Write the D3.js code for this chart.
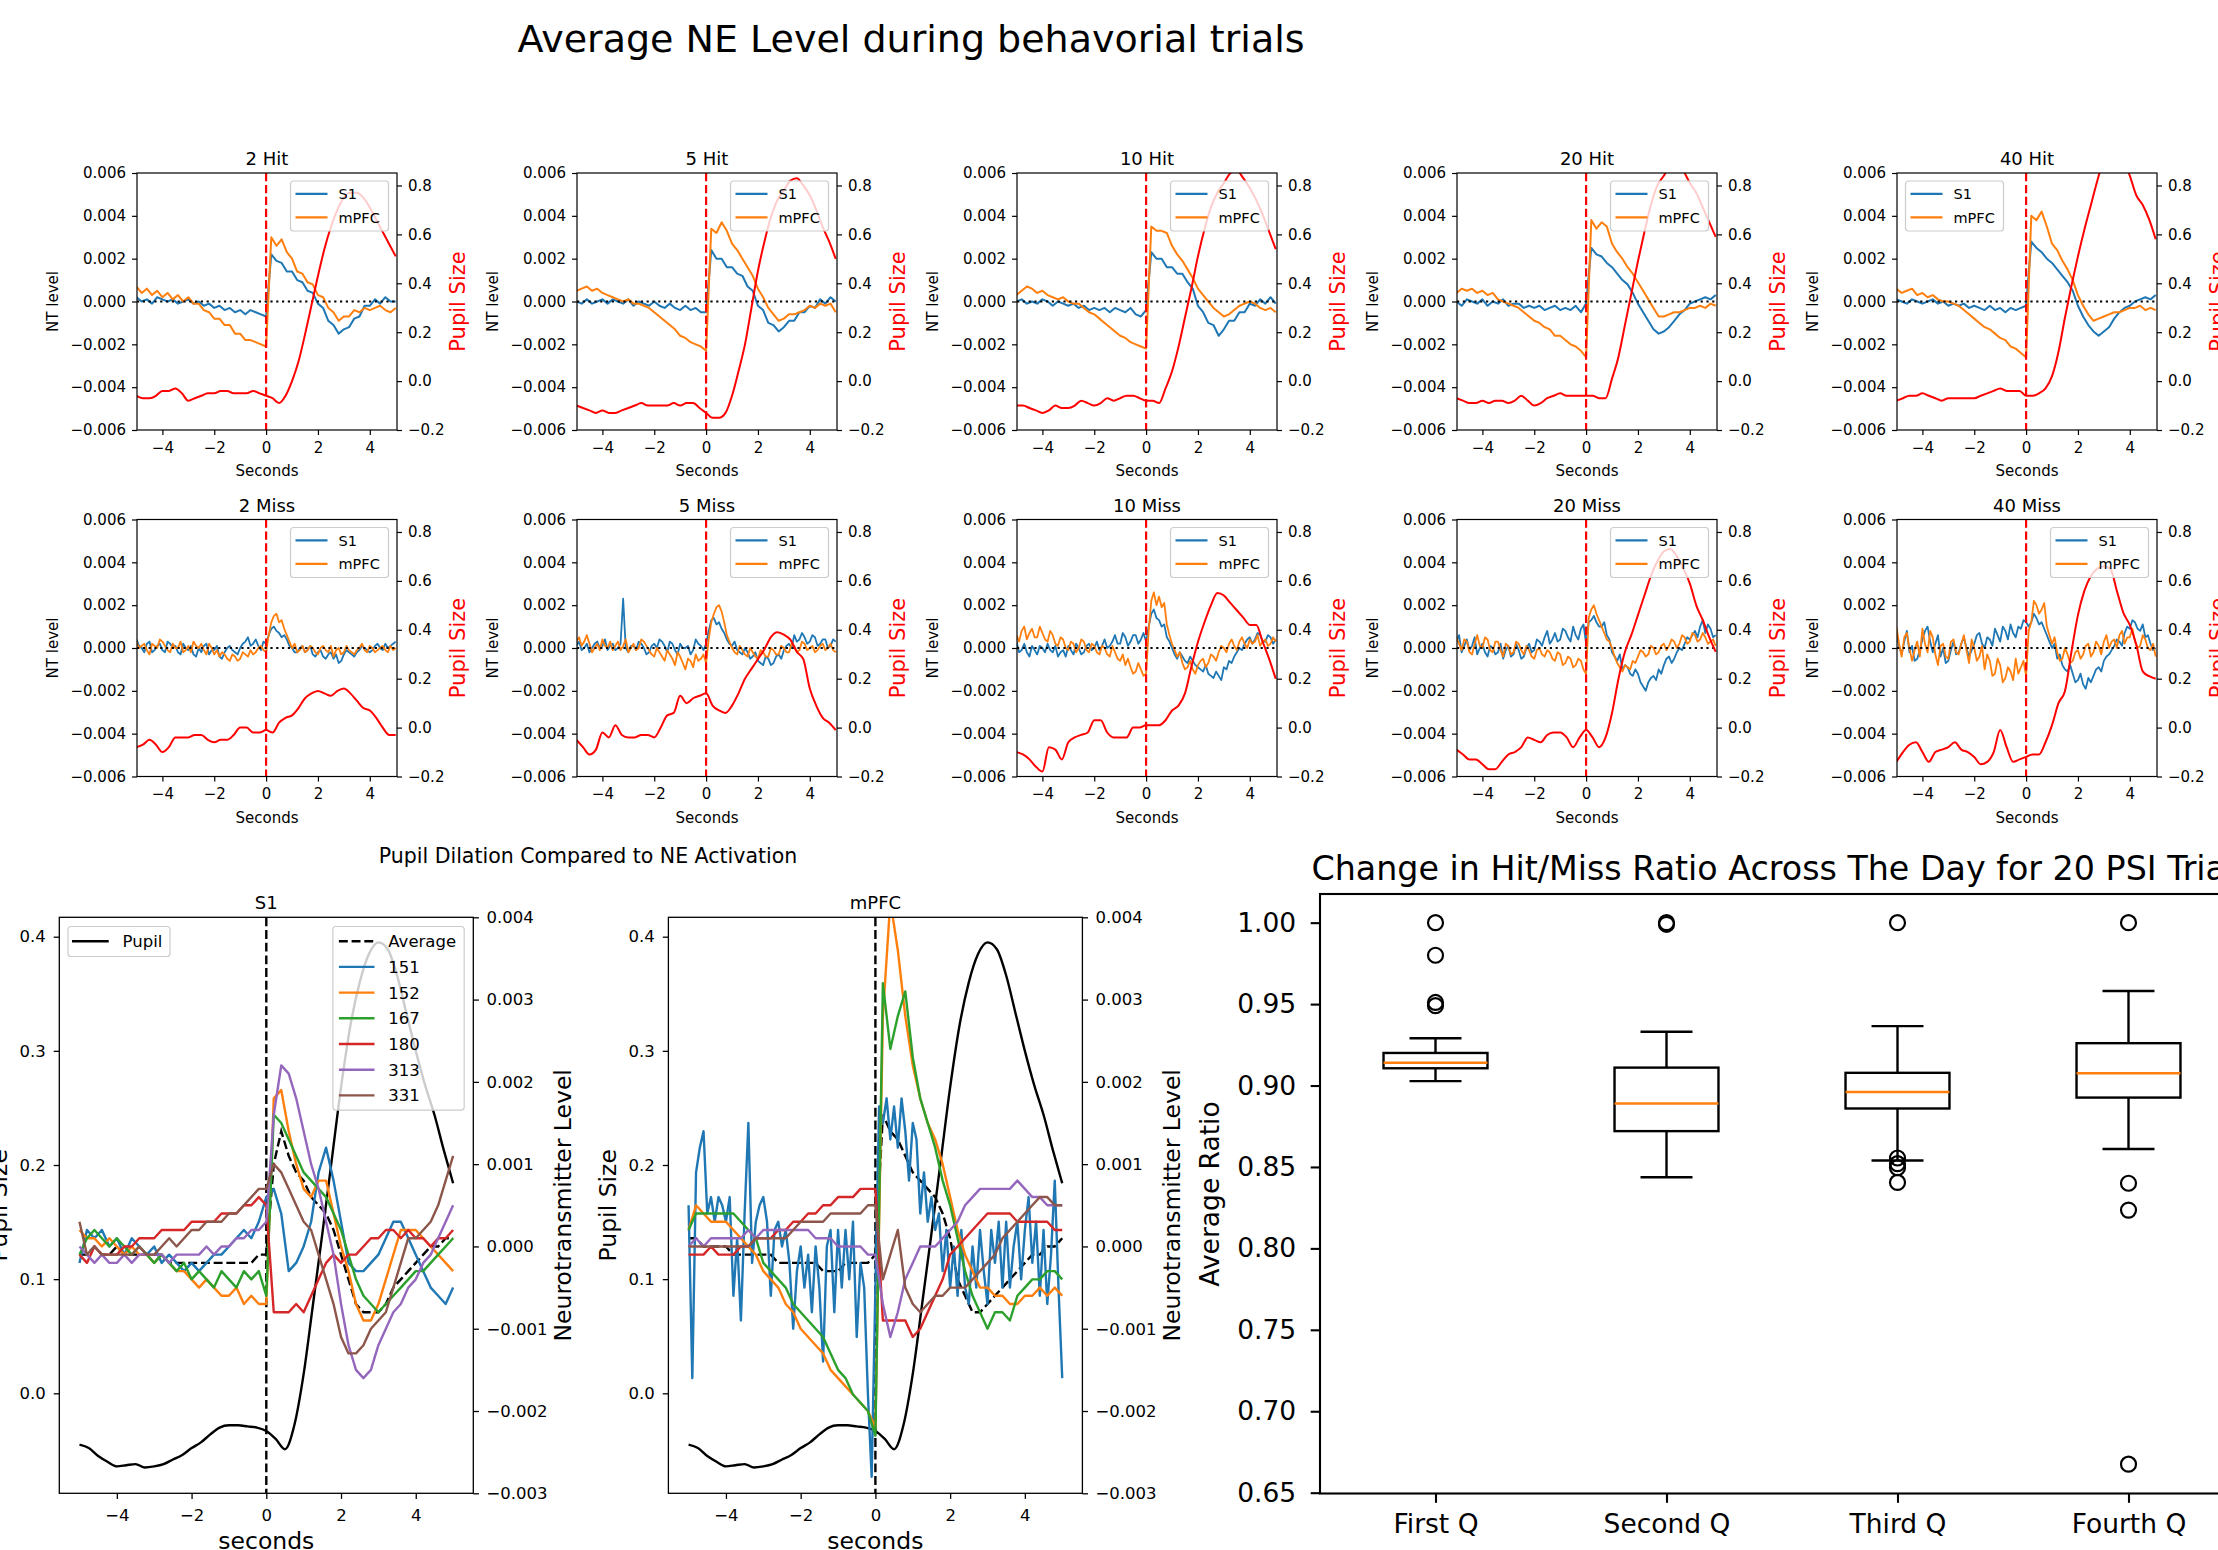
<!DOCTYPE html>
<html>
<head>
<meta charset="utf-8">
<script src="https://cdn.jsdelivr.net/npm/d3@7"></script>
<style>
  body { margin: 0; padding: 0; background: #fff; }
  svg text { font-family: "DejaVu Sans", sans-serif; }
</style>
</head>
<body>
<svg id="fig" width="2218" height="1550"></svg>
<script>
// ---------- top grid: NT level (units of 1e-4) and pupil size (units of 0.01) ----------
// NT series run from -5 s to 5 s in even steps (51 points for hits, 101 for misses)
var trialNames = ["2 Hit", "5 Hit", "10 Hit", "20 Hit", "40 Hit", "2 Miss", "5 Miss", "10 Miss", "20 Miss", "40 Miss"];
var legendLeft = [false, false, false, false, true, false, false, false, false, false];
var pupilTime = d3.range(41).map(function (i) { return -5 + 0.25 * i; });
function timeFor(vals) {
  var n = vals.length;
  return vals.map(function (v, i) { return -5 + 10 * i / (n - 1); });
}

var s1_2hit = [2,0,1,-1,2,1,0,1,-1,0,1,-1,0,-2,-1,-3,-2,-4,-3,-5,-4,-6,-4,-5,-6,-7, 22,19,18,14,14,10,9,5,4,-1,-3,-9,-11,-15,-13,-12,-8,-7,-2,-2,1,-1,2,0,0];
var pfc_2hit = [7,4,6,3,5,2,4,1,3,0,2,-1,-1,-4,-5,-8,-8,-11,-11,-15,-15,-18,-18,-19,-20,-21, 30,26,29,23,20,14,13,9,8,3,2,-3,-5,-9,-7,-7,-4,-5,-3,-4,-3,-2,-4,-5,-3];
var pupil_2hit = [-6,-7,-7,-6,-4,-4,-3,-5,-8,-7,-6,-5,-5,-4,-4,-5,-5,-5,-4,-5,-6,-7,-9,-6,0,8,19,31,43,54,63,70,75,77,77,75,71,66,61,56,51];

var s1_5hit = [0,-1,1,-1,0,1,-1,1,0,-1,1,-2,0,-1,-2,0,-2,-3,-1,-3,-4,-2,-4,-3,-5,-5, 24,20,20,16,16,13,12,7,5,-2,-4,-10,-11,-14,-12,-9,-9,-5,-5,-2,-3,1,-1,2,0];
var pfc_5hit = [5,6,7,5,6,4,3,2,1,0,1,-1,-1,-2,-3,-5,-7,-9,-11,-13,-16,-17,-19,-20,-21,-23, 34,32,37,33,27,24,20,16,12,6,2,-3,-6,-9,-8,-6,-6,-5,-4,-2,-3,-1,-2,-1,-5];
var pupil_5hit = [-10,-11,-12,-13,-12,-13,-13,-12,-11,-10,-9,-10,-10,-10,-10,-9,-10,-9,-9,-11,-13,-15,-15,-13,-6,4,15,30,45,57,67,74,78,82,83,80,76,70,63,57,50];

var s1_10hit = [0,1,-1,0,-1,1,0,-2,0,-1,-2,-1,-3,-2,-4,-3,-4,-3,-5,-3,-4,-5,-3,-6,-7,-4, 23,20,20,16,16,13,13,9,6,-2,-5,-10,-11,-16,-13,-9,-9,-5,-5,-1,-2,1,-1,2,-1];
var pfc_10hit = [3,5,7,6,4,5,3,2,1,2,0,-1,-1,-3,-5,-6,-8,-10,-12,-14,-16,-17,-19,-20,-21,-22, 35,33,33,32,26,22,19,15,11,6,3,0,-3,-5,-7,-6,-4,-2,-1,0,-1,-3,-4,-3,-5];
var pupil_10hit = [-10,-10,-11,-12,-13,-12,-10,-11,-11,-10,-8,-9,-10,-9,-7,-8,-7,-6,-6,-7,-8,-8,-9,-3,4,14,26,38,51,62,71,77,81,85,86,83,79,74,68,61,54];

var s1_20hit = [0,-2,1,0,-1,1,-2,0,-1,1,-2,-1,-1,-3,-2,-3,-2,-4,-3,-2,-4,-3,-4,-2,-5,-1, 25,22,21,18,16,13,10,8,4,-1,-5,-9,-13,-15,-14,-12,-9,-6,-4,-1,0,1,2,1,3];
var pfc_20hit = [4,6,5,6,4,5,3,4,1,0,-1,-2,-3,-5,-7,-9,-10,-12,-13,-16,-16,-18,-20,-21,-23,-26, 38,34,37,35,27,23,20,16,13,9,5,1,-3,-7,-7,-6,-5,-5,-4,-3,-3,-2,-3,-1,-2];
var pupil_20hit = [-7,-8,-9,-9,-8,-9,-8,-8,-9,-8,-6,-8,-10,-9,-7,-6,-5,-6,-6,-6,-6,-6,-7,-7,1,10,23,36,49,61,72,80,84,88,88,86,81,77,71,65,59];

var s1_40hit = [1,0,-1,1,0,-1,0,1,-1,0,-2,-1,-2,-1,-3,-2,-3,-4,-2,-4,-3,-5,-3,-4,-3,-2, 28,25,23,20,18,15,12,9,5,-2,-7,-11,-14,-16,-14,-12,-8,-5,-3,-2,0,1,2,1,3];
var pfc_40hit = [6,4,5,6,3,4,2,3,1,0,0,-1,-2,-4,-6,-8,-10,-12,-13,-15,-17,-18,-21,-22,-24,-26, 40,38,42,35,27,24,19,15,10,3,-2,-6,-9,-8,-7,-6,-5,-5,-4,-3,-3,-2,-4,-3,-4];
var pupil_40hit = [-8,-7,-6,-6,-5,-6,-7,-8,-7,-7,-7,-7,-7,-6,-5,-4,-3,-4,-4,-4,-6,-6,-5,-3,2,12,26,39,51,62,72,82,91,96,97,91,84,76,72,66,58];

var s1_2miss = [4,1,0,-2,2,3,-2,-1,1,2,-1,-2,3,2,0,1,-2,-3,2,0,-1,1,-3,-4,0,-2,1,2,-3,-1,-1,1,-4,-5,-2,0,1,-1,-2,-3,
                0,2,3,5,1,2,4,1,-1,3,2,6,9,10,8,7,5,6,4,1,0,-2,-2,0,1,-2,-1,1,-3,-4,-2,-1,-4,-5,-3,-2,-5,-3,-7,-6,
                -3,-1,-2,-3,-4,-2,-1,1,0,-1,-2,-1,1,2,0,-1,2,0,1,2,3];
var pfc_2miss = [3,0,1,2,-1,-3,2,1,0,4,3,1,-1,-2,2,0,0,3,-2,-1,1,-2,3,1,0,2,-1,-3,2,0,-3,-1,-4,-2,-3,-5,-6,-3,-4,-6,
                 -5,-2,-3,-4,-1,-3,-2,0,1,-1,-2,6,12,15,16,12,13,9,6,3,0,2,-2,-1,1,-2,-1,1,0,-2,-3,0,1,-1,-2,1,-4,-1,0,-3,
                 -2,1,-1,-2,-3,-1,0,2,-1,-2,1,0,-2,-1,0,1,-1,-2,1,-1,0];
var pupil_2miss = [-8,-7,-5,-7,-10,-8,-4,-4,-4,-3,-3,-5,-6,-5,-5,-3,0,0,-2,-2,-1,-2,2,4,5,8,12,14,15,14,13,15,16,14,11,8,7,4,0,-3,-3];

var s1_5miss = [1,3,-1,0,2,-2,0,2,3,0,1,4,-1,1,2,-1,0,2,23,0,-2,1,1,-1,3,2,0,-3,-2,1,2,0,4,3,1,-2,3,2,-1,-3,
                2,0,0,1,-3,-1,4,2,1,-1,2,8,13,14,11,12,9,7,4,2,1,3,-1,-2,-3,0,-2,-5,-4,-2,-6,-7,-8,-4,-5,-8,-7,-4,-3,-5,
                -1,1,2,0,6,3,4,7,5,2,3,6,5,1,2,4,4,0,1,4,3];
var pfc_5miss = [3,5,1,3,6,2,-2,0,2,-1,4,1,0,3,-1,1,3,-1,1,4,-2,0,2,-1,0,4,3,1,-1,-3,-4,0,-2,-4,-6,-1,-3,-5,-8,-2,
                 -4,-7,-10,-5,-6,-9,-3,-6,-5,-3,-7,4,12,16,19,20,17,12,6,3,0,-2,-3,1,-1,-3,-4,0,-2,-4,-5,-1,-2,-4,-4,0,-1,-3,-3,1,
                 0,-2,-2,2,1,-2,-1,3,2,-1,0,1,-2,-1,1,2,-1,0,2,-1,-2];
var pupil_5miss = [-5,-8,-11,-9,-2,-4,1,-3,-4,-4,-3,-3,-4,0,5,6,13,10,12,13,14,9,7,6,9,14,20,24,28,32,37,39,38,36,31,28,16,9,4,2,-1];

var s1_10miss = [3,-2,-1,2,-2,-4,1,-1,-3,1,0,-2,2,-1,-2,1,-4,-2,-1,-4,1,-1,-3,2,0,-3,-2,1,2,-1,0,3,-1,1,4,0,1,3,6,2,
                 2,7,5,1,3,6,6,2,4,7,3,10,16,18,14,13,10,11,5,3,0,-3,-5,-2,-4,-6,-7,-4,-6,-8,-9,-10,-11,-8,-12,-13,-14,-11,-13,-15,
                 -9,-10,-6,-7,-4,-2,0,-1,2,4,5,2,4,7,6,3,3,6,5,2,4];
var pfc_10miss = [6,3,8,10,4,7,9,5,5,10,7,4,3,8,6,2,1,5,4,0,-1,3,2,-2,0,4,3,-1,-2,2,1,-2,-3,1,0,-3,-4,1,-2,-5,
                  -6,-3,-8,-5,-9,-12,-11,-7,-10,-13,-12,8,22,26,20,24,19,21,11,6,2,-1,-4,-2,-7,-10,-9,-6,-10,-12,-8,-6,-5,-9,-7,-3,-4,-6,-2,1,
                  0,-2,2,4,1,-1,3,5,2,0,4,2,3,6,1,3,4,1,2,5,3];
var pupil_10miss = [-10,-11,-13,-16,-18,-8,-9,-13,-6,-4,-3,-2,3,3,-2,-4,-4,-4,0,0,1,1,1,3,7,9,14,25,35,43,50,55,54,51,48,45,42,42,35,28,20];

var s1_20miss = [3,6,-2,1,4,-1,1,5,-3,0,2,-2,-4,1,0,-3,-2,2,-5,-1,1,-4,-3,2,-1,-5,-4,0,2,-2,-1,4,3,1,5,8,2,4,7,3,
                 4,9,8,5,3,10,6,4,9,11,2,12,13,15,12,10,10,12,6,4,-2,-4,-6,-3,-10,-8,-9,-12,-13,-10,-12,-16,-18,-20,-16,-14,-13,-15,-10,-12,
                 -8,-5,-4,-7,-5,-2,0,-1,2,5,4,6,8,5,10,13,7,11,9,5,6];
var pfc_20miss = [5,2,-1,4,3,-2,-3,2,6,1,0,5,4,-1,-2,3,3,-1,-4,2,1,-3,-2,3,2,-1,-3,1,-1,-4,-5,-1,0,-3,-4,-1,-2,-5,-6,-2,
                  -3,-8,-7,-4,-5,-9,-8,-5,-6,-10,-12,14,18,20,16,13,10,7,4,3,0,-4,-7,-9,-11,-8,-9,-10,-6,-7,-4,-1,-2,-4,-3,1,0,-3,-2,1,
                  2,-1,1,4,3,0,2,6,5,2,3,7,6,3,4,7,5,2,3,4,1];
var pupil_20miss = [-9,-11,-13,-13,-15,-17,-17,-14,-11,-10,-8,-4,-5,-6,-3,-2,-2,-4,-8,-4,-1,-4,-8,-4,6,20,31,38,46,54,62,68,72,73,70,65,59,50,44,37,31];

var s1_40miss = [6,1,-3,3,8,-2,1,-6,-5,-1,4,8,10,3,-2,2,6,-4,0,-7,-6,-1,3,-3,-2,2,5,0,-4,-1,2,6,7,2,0,5,4,1,9,6,
                 3,10,8,4,11,7,5,10,9,13,12,10,12,16,14,11,12,9,6,3,0,2,-5,-3,-8,-10,-11,-8,-12,-16,-15,-12,-17,-19,-14,-16,-13,-10,-9,-11,
                 -6,-4,-3,-1,1,4,3,1,7,10,9,13,12,9,8,11,5,6,2,-1,0];
var pfc_40miss = [10,2,-4,5,7,0,-6,-1,3,-4,9,2,-2,8,5,-3,-8,1,2,-4,-5,3,4,-2,-3,2,6,-1,-7,4,0,-6,-4,1,-10,-3,-6,-13,-12,-5,
                  -8,-16,-14,-9,-11,-15,-5,-12,-9,-6,-13,8,12,22,20,16,18,21,10,6,2,5,-2,-6,-5,0,-3,-7,-6,-2,-1,-5,-3,1,2,-4,-2,3,1,-3,
                  3,6,0,3,4,0,6,8,2,5,5,9,3,0,1,6,4,0,-1,2,-4];
var pupil_40miss = [-14,-10,-7,-6,-10,-14,-10,-9,-8,-6,-9,-10,-12,-15,-14,-10,-1,-8,-14,-13,-12,-11,-11,-6,1,10,15,31,46,56,62,65,66,65,56,47,42,34,23,21,20];

var trialS1 = [s1_2hit, s1_5hit, s1_10hit, s1_20hit, s1_40hit, s1_2miss, s1_5miss, s1_10miss, s1_20miss, s1_40miss];
var trialPfc = [pfc_2hit, pfc_5hit, pfc_10hit, pfc_20hit, pfc_40hit, pfc_2miss, pfc_5miss, pfc_10miss, pfc_20miss, pfc_40miss];
var trialPupil = [pupil_2hit, pupil_5hit, pupil_10hit, pupil_20hit, pupil_40hit, pupil_2miss, pupil_5miss, pupil_10miss, pupil_20miss, pupil_40miss];

// ---------- bottom left: per-animal NT (units of 1e-4) and pupil (units of 0.001) ----------
var animals = ["151", "152", "167", "180", "313", "331"];
var pupilAvg = [-45,-48,-55,-60,-64,-63,-62,-65,-64,-62,-58,-54,-48,-43,-36,-30,-28,-28,-29,-30,-33,-40,-49,-28,17,78,140,204,268,322,360,385,395,389,366,333,300,270,244,213,184];

var s1_avg = [-1,-1,0,-1,-1,0,-1,-1,-1,-1,-1,-1,-2,-2,-2,-2,-2,-2,-2,-2,-2,-2,-2,-2,-1,-1, 10,14,11,9,8,6,5,4,2,-1,-4,-7,-8,-8,-8,-7,-5,-4,-3,-2,-1,0,0,1,1];
var s1_151 = [-2,2,1,2,0,1,-1,1,0,-1,0,-2,-1,-2,-3,-2,-3,-2,-1,-1,0,1,2,1,3,6, 7,4,-3,-2,0,3,9,12,8,3,-2,-3,-3,-2,-1,1,3,3,1,-1,-3,-5,-6,-7,-5];
var s1_152 = [2,1,1,0,1,0,-1,0,-1,-1,-2,-1,-2,-3,-3,-4,-5,-4,-5,-6,-6,-5,-7,-6,-7,-7, 18,19,14,10,7,6,8,8,4,0,-3,-7,-9,-9,-7,-4,-1,2,2,2,1,0,-1,-2,-3];
var s1_167 = [-1,1,2,1,0,1,0,-1,0,-1,-2,-1,-2,-3,-2,-4,-3,-4,-5,-3,-4,-5,-3,-4,-3,-6, 16,15,13,11,9,8,7,6,4,2,-1,-4,-6,-7,-8,-7,-6,-5,-4,-3,-3,-2,-1,0,1];
var s1_180 = [-1,-2,0,-1,-1,-1,0,0,1,1,1,2,2,2,2,3,3,3,3,4,4,4,5,5,6,5, -8,-8,-8,-7,-8,-6,-4,-2,-1,-2,-1,-1,0,1,1,2,2,1,2,1,1,0,1,1,2];
var s1_313 = [0,-1,-2,-1,-2,-2,-1,-2,-1,-1,-1,-1,-2,-1,-1,-1,-1,0,-1,0,0,1,1,2,2,3, 16,22,21,18,14,10,7,3,-1,-7,-12,-15,-16,-15,-12,-10,-8,-7,-5,-4,-2,-1,1,3,5];
var s1_331 = [3,-1,0,-1,-1,-1,-1,-1,0,-1,-1,0,1,0,1,2,2,3,3,3,4,4,5,6,7,7, 10,9,7,5,3,2,-1,-4,-7,-11,-13,-13,-12,-10,-9,-8,-5,-2,1,1,2,3,5,8,11];

var pfc_avg = [1,1,0,0,0,0,-1,-1,-1,-1,-1,-1,-2,-2,-2,-2,-2,-2,-3,-3,-3,-2,-2,-2,-2,-1, 16,14,13,11,9,8,7,6,4,1,-4,-6,-8,-8,-7,-6,-5,-4,-3,-2,-1,-1,0,0,1];
var pfc_151 = [5,-16,9,12,14,4,6,3,6,5, 3,6,-6,1,-9,4,15,-2,3,5, 6,3,-6,2,3,0,2,-2,-10,-3, 0,-5,-1,-8,0,-5,-14,0,2,-8, 2,-5,2,-4,3,-11,-2,-5,-18,-28,
               -5,17,15,18,13,17,12,18,14,8, 15,13,4,9,3,6,2,4,-3,2, -5,0,-6,2,-5,-7,0,-5,2,-3, -7,2,-2,3,-5,3,-5,0,3,-4, 2,6,-2,3,-6,2,-7,-1,8,-5, -16];
var pfc_152 = [2,5,4,3,3,3,2,1,0,-1,-3,-4,-5,-7,-8,-10,-11,-12,-13,-15,-16,-17,-18,-19,-20,-22, 28,42,36,28,22,18,15,13,10,6,2,-1,-3,-5,-5,-6,-6,-7,-7,-6,-6,-5,-6,-5,-6];
var pfc_167 = [2,4,4,4,4,4,4,3,2,1,-2,-3,-4,-5,-7,-8,-9,-10,-11,-13,-15,-16,-18,-19,-20,-23, 32,24,28,31,23,18,15,12,8,5,1,-3,-6,-8,-10,-8,-8,-9,-6,-5,-4,-4,-3,-3,-4];
var pfc_180 = [-1,-1,-1,0,-1,-1,-1,0,0,1,1,1,2,2,3,3,4,4,5,5,6,6,6,7,7,7, -9,-9,-9,-9,-11,-10,-8,-6,-4,-1,0,1,2,3,4,4,4,4,3,3,3,3,3,2,2];
var pfc_313 = [0,1,0,1,1,1,1,1,2,1,2,2,2,2,2,2,2,1,1,1,0,0,0,0,-1,-1, -7,-11,-8,-4,-2,0,0,0,1,2,3,5,6,7,7,7,7,7,8,7,6,6,5,5,5];
var pfc_331 = [0,0,0,0,0,0,0,0,0,1,1,1,1,1,2,3,3,3,3,4,4,4,4,4,5,5, -4,-1,2,-5,-7,-8,-7,-6,-6,-5,-5,-5,-4,-3,-2,-1,1,2,3,4,5,6,6,5,5];

// ---------- bottom right: hit/miss ratio box plot ----------
var quarters = ["First Q", "Second Q", "Third Q", "Fourth Q"];
var boxQ1 = [0.9106, 0.872, 0.8859, 0.8926];
var boxMed = [0.914, 0.889, 0.896, 0.9075];
var boxQ3 = [0.920, 0.911, 0.9078, 0.926];
var whiskLo = [0.9027, 0.8437, 0.854, 0.861];
var whiskHi = [0.929, 0.933, 0.9365, 0.958];
var fliers = [[1.0, 0.98, 0.951, 0.949], [1.0, 0.999], [1.0, 0.8555, 0.852, 0.8495, 0.8405], [1.0, 0.84, 0.8235, 0.6675]];

var C = { blue: "#1f77b4", orange: "#ff7f0e", green: "#2ca02c", red: "#d62728", purple: "#9467bd", brown: "#8c564b" };
var animalColors = [C.blue, C.orange, C.green, C.red, C.purple, C.brown];

var svg = d3.select("#fig");
svg.append("rect").attr("width", 2218).attr("height", 1550).attr("fill", "#fff");

function styleAxis(g, fs, sw) {
  g.attr("font-size", fs);
  g.select(".domain").remove();
  g.selectAll(".tick line").attr("stroke", "#000").attr("stroke-width", sw);
}

function legendBox(g, x, y, w, h) {
  g.append("rect").attr("x", x).attr("y", y).attr("width", w).attr("height", h)
    .attr("rx", 3).attr("fill", "#fff").attr("fill-opacity", 0.8)
    .attr("stroke", "#cccccc").attr("stroke-width", 1.2);
}

svg.append("text").attr("x", 911).attr("y", 52).attr("text-anchor", "middle")
  .attr("font-size", 38).text("Average NE Level during behavorial trials");

// ---------- top grid ----------
var TW = 260, TH = 257;
var trialLeft = [137, 577, 1017, 1457, 1897];
var trialTop = [173, 519.5];

function drawTrial(k) {
  var left = trialLeft[k % 5], top = trialTop[Math.floor(k / 5)];
  var g = svg.append("g").attr("transform", "translate(" + left + "," + top + ")");
  var x = d3.scaleLinear().domain([-4.98, 5.05]).range([0, TW]);
  var yl = d3.scaleLinear().domain([-0.006, 0.006]).range([TH, 0]);
  var yr = d3.scaleLinear().domain([-0.2, 0.851]).range([TH, 0]);

  g.append("clipPath").attr("id", "tclip" + k).append("rect").attr("width", TW).attr("height", TH);
  var plot = g.append("g").attr("clip-path", "url(#tclip" + k + ")");

  var nt = d3.line().x(function (d) { return x(d[0]); }).y(function (d) { return yl(d[1] * 1e-4); });
  var lw = k < 5 ? 2 : 1.8;
  plot.append("path").attr("d", nt(d3.zip(timeFor(trialS1[k]), trialS1[k])))
    .attr("fill", "none").attr("stroke", C.blue).attr("stroke-width", lw).attr("stroke-linejoin", "round");
  plot.append("path").attr("d", nt(d3.zip(timeFor(trialPfc[k]), trialPfc[k])))
    .attr("fill", "none").attr("stroke", C.orange).attr("stroke-width", lw).attr("stroke-linejoin", "round");

  plot.append("line").attr("x1", 0).attr("x2", TW).attr("y1", yl(0)).attr("y2", yl(0))
    .attr("stroke", "#000").attr("stroke-width", 2.2).attr("stroke-dasharray", "2.2,3.6");
  plot.append("line").attr("x1", x(0)).attr("x2", x(0)).attr("y1", 0).attr("y2", TH)
    .attr("stroke", "red").attr("stroke-width", 2.2).attr("stroke-dasharray", "8.3,3.6");

  var bx = legendLeft[k] ? 8.5 : TW - 8.5 - 98, by = 8;
  legendBox(g, bx, by, 98, 50);
  [["S1", C.blue], ["mPFC", C.orange]].forEach(function (e, i) {
    var yy = by + 12.8 + i * 23.5;
    g.append("line").attr("x1", bx + 5).attr("x2", bx + 37).attr("y1", yy).attr("y2", yy)
      .attr("stroke", e[1]).attr("stroke-width", 2.2);
    g.append("text").attr("x", bx + 48).attr("y", yy).attr("dy", "0.36em").attr("font-size", 14.5).text(e[0]);
  });

  var pl = d3.line().curve(d3.curveMonotoneX).x(function (d) { return x(d[0]); }).y(function (d) { return yr(d[1] * 0.01); });
  plot.append("path").attr("d", pl(d3.zip(pupilTime, trialPupil[k])))
    .attr("fill", "none").attr("stroke", "red").attr("stroke-width", 2);

  g.append("rect").attr("width", TW).attr("height", TH).attr("fill", "none").attr("stroke", "#000").attr("stroke-width", 1.2);

  var ax = g.append("g").attr("transform", "translate(0," + TH + ")")
    .call(d3.axisBottom(x).tickValues([-4, -2, 0, 2, 4]).tickFormat(d3.format("d")).tickSize(5).tickPadding(7));
  styleAxis(ax, 15, 1.2);
  var ayl = g.append("g").call(d3.axisLeft(yl).tickValues(d3.range(-6, 7, 2).map(function (v) { return v * 0.001; }))
    .tickFormat(d3.format(".3f")).tickSize(5).tickPadding(6));
  styleAxis(ayl, 15, 1.2);
  var ayr = g.append("g").attr("transform", "translate(" + TW + ",0)")
    .call(d3.axisRight(yr).tickValues([-0.2, 0, 0.2, 0.4, 0.6, 0.8]).tickFormat(d3.format(".1f")).tickSize(5).tickPadding(6));
  styleAxis(ayr, 15, 1.2);

  g.append("text").attr("x", TW / 2).attr("y", -8).attr("text-anchor", "middle").attr("font-size", 18).text(trialNames[k]);
  g.append("text").attr("x", TW / 2).attr("y", TH + 46).attr("text-anchor", "middle").attr("font-size", 15).text("Seconds");
  g.append("text").attr("transform", "translate(-84," + TH / 2 + ") rotate(-90)").attr("dy", "0.36em")
    .attr("text-anchor", "middle").attr("font-size", 15).text("NT level");
  g.append("text").attr("transform", "translate(" + (TW + 60) + "," + TH / 2 + ") rotate(-90)").attr("dy", "0.36em")
    .attr("text-anchor", "middle").attr("font-size", 21).attr("fill", "red").text("Pupil Size");
}
for (var k = 0; k < 10; k++) drawTrial(k);

// ---------- bottom left: pupil vs NE activation ----------
svg.append("text").attr("x", 588).attr("y", 863).attr("text-anchor", "middle")
  .attr("font-size", 20.5).text("Pupil Dilation Compared to NE Activation");

var RW = 414, RH = 576;
function drawRegion(name, left, avg, lines, withLegend) {
  var top = 917.3;
  var g = svg.append("g").attr("transform", "translate(" + left + "," + top + ")");
  var x = d3.scaleLinear().domain([-5.54, 5.54]).range([0, RW]);
  var yp = d3.scaleLinear().domain([-0.0876, 0.417]).range([RH, 0]);
  var yn = d3.scaleLinear().domain([-0.003, 0.004]).range([RH, 0]);

  g.append("clipPath").attr("id", "rclip" + name).append("rect").attr("width", RW).attr("height", RH);
  var plot = g.append("g").attr("clip-path", "url(#rclip" + name + ")");

  var pl = d3.line().curve(d3.curveMonotoneX).x(function (d) { return x(d[0]); }).y(function (d) { return yp(d[1] * 0.001); });
  plot.append("path").attr("d", pl(d3.zip(pupilTime, pupilAvg)))
    .attr("fill", "none").attr("stroke", "#000").attr("stroke-width", 2.4);

  if (withLegend) {
    legendBox(g, 8.7, 9.2, 102, 30);
    g.append("line").attr("x1", 12.7).attr("x2", 49.4).attr("y1", 24).attr("y2", 24).attr("stroke", "#000").attr("stroke-width", 2.4);
    g.append("text").attr("x", 63.3).attr("y", 24).attr("dy", "0.36em").attr("font-size", 16.5).text("Pupil");
  }

  plot.append("line").attr("x1", x(0)).attr("x2", x(0)).attr("y1", 0).attr("y2", RH)
    .attr("stroke", "#000").attr("stroke-width", 2.4).attr("stroke-dasharray", "8.9,3.8");

  var nl = d3.line().x(function (d) { return x(d[0]); }).y(function (d) { return yn(d[1] * 1e-4); });
  plot.append("path").attr("d", nl(d3.zip(timeFor(avg), avg)))
    .attr("fill", "none").attr("stroke", "#000").attr("stroke-width", 2.4).attr("stroke-dasharray", "8.9,3.8");
  lines.forEach(function (vals, i) {
    plot.append("path").attr("d", nl(d3.zip(timeFor(vals), vals)))
      .attr("fill", "none").attr("stroke", animalColors[i]).attr("stroke-width", 2.4).attr("stroke-linejoin", "round");
  });

  if (withLegend) {
    var bx = RW - 140.4, by = 9.2;
    legendBox(g, bx, by, 131.3, 183.6);
    var entries = [["Average", "#000"]].concat(animals.map(function (a, i) { return [a, animalColors[i]]; }));
    entries.forEach(function (e, i) {
      var yy = by + 14.7 + i * 25.7;
      g.append("line").attr("x1", bx + 6).attr("x2", bx + 41.6).attr("y1", yy).attr("y2", yy)
        .attr("stroke", e[1]).attr("stroke-width", 2.4).attr("stroke-dasharray", i === 0 ? "8.9,3.8" : null);
      g.append("text").attr("x", bx + 55.4).attr("y", yy).attr("dy", "0.36em").attr("font-size", 16.5).text(e[0]);
    });
  }

  g.append("rect").attr("width", RW).attr("height", RH).attr("fill", "none").attr("stroke", "#000").attr("stroke-width", 1.3);

  var ax = g.append("g").attr("transform", "translate(0," + RH + ")")
    .call(d3.axisBottom(x).tickValues([-4, -2, 0, 2, 4]).tickFormat(d3.format("d")).tickSize(5.6).tickPadding(10));
  styleAxis(ax, 16.5, 1.3);
  var ayp = g.append("g").call(d3.axisLeft(yp).tickValues([0, 0.1, 0.2, 0.3, 0.4]).tickFormat(d3.format(".1f")).tickSize(5.6).tickPadding(8));
  styleAxis(ayp, 16.5, 1.3);
  var ayn = g.append("g").attr("transform", "translate(" + RW + ",0)")
    .call(d3.axisRight(yn).tickValues(d3.range(-3, 5).map(function (v) { return v * 0.001; })).tickFormat(d3.format(".3f")).tickSize(5.6).tickPadding(7.5));
  styleAxis(ayn, 16.5, 1.3);

  g.append("text").attr("x", RW / 2).attr("y", -8.5).attr("text-anchor", "middle").attr("font-size", 18).text(name);
  g.append("text").attr("x", RW / 2).attr("y", 632).attr("text-anchor", "middle").attr("font-size", 23.5).text("seconds");
  g.append("text").attr("transform", "translate(-60.4," + RH / 2 + ") rotate(-90)").attr("dy", "0.36em")
    .attr("text-anchor", "middle").attr("font-size", 23.5).text("Pupil Size");
  g.append("text").attr("transform", "translate(" + (RW + 89.5) + "," + RH / 2 + ") rotate(-90)").attr("dy", "0.36em")
    .attr("text-anchor", "middle").attr("font-size", 23.5).text("Neurotransmitter Level");
}
drawRegion("S1", 59.3, s1_avg, [s1_151, s1_152, s1_167, s1_180, s1_313, s1_331], true);
drawRegion("mPFC", 668.4, pfc_avg, [pfc_151, pfc_152, pfc_167, pfc_180, pfc_313, pfc_331], false);

// ---------- bottom right: box plot ----------
(function () {
  var bxs = d3.scaleLinear().domain([0.5, 4.5]).range([1320, 2244]);
  var bys = d3.scaleLinear().domain([0.6495, 1.0176]).range([1493.5, 894]);
  var g = svg.append("g");
  var bw = 0.45, cw = 0.225, lw = 2.4;
  quarters.forEach(function (q, i) {
    var c = i + 1;
    function seg(x1, y1, x2, y2, col) {
      g.append("line").attr("x1", x1).attr("y1", y1).attr("x2", x2).attr("y2", y2)
        .attr("stroke", col || "#000").attr("stroke-width", lw);
    }
    seg(bxs(c), bys(whiskLo[i]), bxs(c), bys(boxQ1[i]));
    seg(bxs(c), bys(boxQ3[i]), bxs(c), bys(whiskHi[i]));
    seg(bxs(c - cw / 2), bys(whiskLo[i]), bxs(c + cw / 2), bys(whiskLo[i]));
    seg(bxs(c - cw / 2), bys(whiskHi[i]), bxs(c + cw / 2), bys(whiskHi[i]));
    g.append("rect").attr("x", bxs(c - bw / 2)).attr("y", bys(boxQ3[i]))
      .attr("width", bxs(c + bw / 2) - bxs(c - bw / 2)).attr("height", bys(boxQ1[i]) - bys(boxQ3[i]))
      .attr("fill", "none").attr("stroke", "#000").attr("stroke-width", lw);
    seg(bxs(c - bw / 2), bys(boxMed[i]), bxs(c + bw / 2), bys(boxMed[i]), C.orange);
    fliers[i].forEach(function (v) {
      g.append("circle").attr("cx", bxs(c)).attr("cy", bys(v)).attr("r", 7.5)
        .attr("fill", "none").attr("stroke", "#000").attr("stroke-width", 2.2);
    });
  });
  g.append("rect").attr("x", 1320).attr("y", 894).attr("width", 924).attr("height", 599.5)
    .attr("fill", "none").attr("stroke", "#000").attr("stroke-width", 2.1);
  var ax = g.append("g").attr("transform", "translate(0,1493.5)")
    .call(d3.axisBottom(bxs).tickValues([1, 2, 3, 4]).tickFormat(function (d) { return quarters[d - 1]; }).tickSize(9.3).tickPadding(11.4));
  styleAxis(ax, 26.5, 2.1);
  var ay = g.append("g").attr("transform", "translate(1320,0)")
    .call(d3.axisLeft(bys).tickValues(d3.range(13, 21).map(function (v) { return v * 0.05; })).tickFormat(d3.format(".2f")).tickSize(9.3).tickPadding(14.5));
  styleAxis(ay, 26.5, 2.1);
  g.append("text").attr("x", 1782).attr("y", 880).attr("text-anchor", "middle").attr("font-size", 33.3)
    .text("Change in Hit/Miss Ratio Across The Day for 20 PSI Trials");
  g.append("text").attr("transform", "translate(1209.8,1194) rotate(-90)").attr("dy", "0.36em")
    .attr("text-anchor", "middle").attr("font-size", 26.5).text("Average Ratio");
})();
</script>
</body>
</html>
